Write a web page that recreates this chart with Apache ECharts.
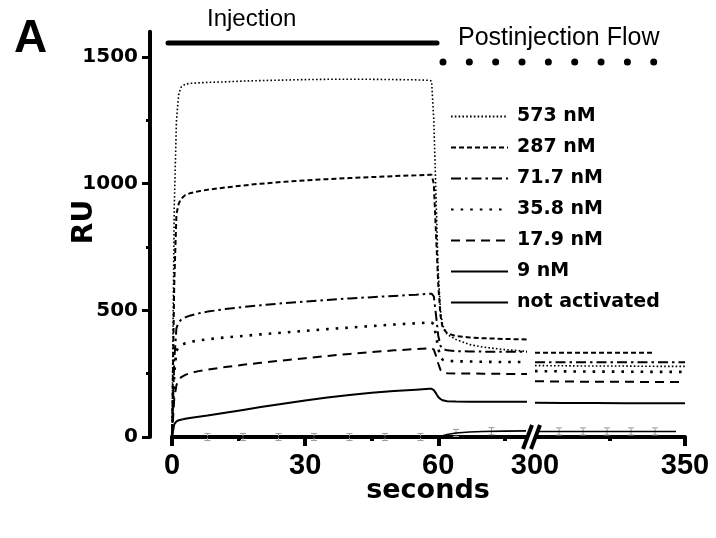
<!DOCTYPE html>
<html><head><meta charset="utf-8">
<script src="https://cdn.jsdelivr.net/npm/echarts@6/dist/echarts.min.js"></script>
<style>html,body{margin:0;padding:0;background:#fff}#c{width:716px;height:538px}</style>
</head><body><div id="c"></div>
<script>
// ---- data ----
const seriesNames = ['573 nM','287 nM','71.7 nM','35.8 nM','17.9 nM','9 nM','not activated'];
// injection + early postinjection (seconds)
const tLeft = [0,0.5,1,1.5,2,3,4,6,8,12,16,20,25,30,35,40,45,50,55,58,58.5,59,59.5,60,60.5,61,62,64,67,70,75,80];
const v573L = [0,900,1250,1350,1380,1393,1396,1398,1400,1402,1405,1407,1409,1411,1412,1412,1412,1411,1410,1408,1405,1250,950,650,500,440,405,385,365,355,345,338];
const v287L = [0,600,880,920,940,955,962,970,976,985,993,1000,1007,1013,1018,1022,1026,1030,1033,1035,1035,1000,800,600,480,430,410,398,393,390,387,385];
const v717L = [0,300,430,452,462,472,479,488,495,505,513,520,528,535,541,547,552,557,562,566,566,555,480,400,360,348,342,339,338,337,337,336];
const v358L = [0,250,340,355,362,370,375,381,386,393,399,405,412,419,426,432,438,444,449,452,452,445,400,350,315,305,301,299,298,297,296,296];
const v179L = [0,150,205,225,235,245,252,260,266,276,285,293,302,311,320,328,335,342,347,350,350,345,320,290,265,256,252,251,251,250,249,249];
const v9L   = [0,50,62,66,68,72,75,80,85,96,107,118,131,144,156,166,175,182,187,190,190,185,172,158,150,145,141,140,139,139,139,139];
const vNaL  = [0,0,0,0,0,0,0,0,0,0,0,0,0,0,0,0,0,0,0,0,0,0,0,0,3,5,10,16,20,22,23,24];
// late postinjection (seconds)
const tRight = [300,310,320,330,340,347,350];
const v573R = [282,281,280,280,279,279,279];
const v287R = [333,333,333,333,333,null,null];
const v717R = [295,295,295,295,295,295,295];
const v358R = [260,259,258,258,257,257,257];
const v179R = [220,219,218,218,217,217,217];
const v9R   = [135,134,134,133,133,133,133];
const vNaR  = [22,22,22,22,22,22,null];
// error bars of "not activated"
const errT = [8,16,24,32,40,48,56,64,72];
const errV = [0,0,0,0,0,0,0,16,23];
const errTR = [308,316,324,332,340];
const errVR = [22,22,22,22,22];
const errHalf = 14;
// ticks
const yTicks = [0,500,1000,1500];
const yMinor = [250,750,1250];
const xTicksL = [0,30,60];
const xMinorL = [15,45,75];
const xLabelsR = [300,350];
const xTicksR = [350];
const xMinorR = [325];

// ---- styles ----
const leftVals = [v573L,v287L,v717L,v358L,v179L,v9L,vNaL];
const rightVals = [v573R,v287R,v717R,v358R,v179R,v9R,vNaR];
const lineStyles = [
  {width:1.6, type:[1.6,2.2]},
  {width:2, type:[5,3]},
  {width:2, type:[10,4,2.5,4]},
  {width:2.6, type:[2.6,7]},
  {width:2, type:[9,6]},
  {width:2, type:'solid'},
  {width:1.6, type:'solid'}
];
const zip = (t,v)=>t.map((x,i)=>[x,v[i]]);
const series = [];
seriesNames.forEach((n,i)=>{
  const ls = Object.assign({color:'#000'}, lineStyles[i]);
  series.push({name:n,type:'line',xAxisIndex:0,yAxisIndex:0,data:zip(tLeft,leftVals[i]),symbol:'none',lineStyle:ls,itemStyle:{color:'#000'},clip:true,animation:false,z:3});
  series.push({name:n,type:'line',xAxisIndex:2,yAxisIndex:2,data:zip(tRight,rightVals[i]),symbol:'none',lineStyle:ls,itemStyle:{color:'#000'},clip:true,animation:false,z:3});
});
function errRender(params, api){
  const t = api.value(0), v = api.value(1), e = api.value(2);
  const a = api.coord([t, v+e]), b = api.coord([t, v-e]);
  const st = {stroke:'#9a9a9a', lineWidth:1};
  return {type:'group', children:[
    {type:'line', shape:{x1:a[0],y1:a[1],x2:b[0],y2:b[1]}, style:st},
    {type:'line', shape:{x1:a[0]-3,y1:a[1],x2:a[0]+3,y2:a[1]}, style:st},
    {type:'line', shape:{x1:b[0]-3,y1:b[1],x2:b[0]+3,y2:b[1]}, style:st}
  ]};
}
series.push({type:'custom',name:'err',xAxisIndex:0,yAxisIndex:0,renderItem:errRender,data:errT.map((t,i)=>[t,errV[i],errHalf]),z:2,animation:false});
series.push({type:'custom',name:'errR',xAxisIndex:2,yAxisIndex:2,renderItem:errRender,data:errTR.map((t,i)=>[t,errVR[i],errHalf]),z:2,animation:false});

const axisBlack = {color:'#000', width:4};
const bold = {fontFamily:'DejaVu Sans', fontWeight:'bold', color:'#000'};
const gridTop = 31.7, gridH = 405.3;
const plain = v => String(v);
const option = {
  backgroundColor:'#fff',
  animation:false,
  grid:[
    {left:172, top:gridTop, width:355, height:gridH},
    {left:535, top:gridTop, width:150, height:gridH}
  ],
  xAxis:[
    {gridIndex:0,type:'value',min:0,max:80,position:'bottom',
     axisLine:{onZero:false,lineStyle:axisBlack},
     axisTick:{customValues:xTicksL,length:9,lineStyle:{color:'#000',width:4}},
     axisLabel:{customValues:xTicksL,formatter:plain,margin:14,fontFamily:'Liberation Sans',fontWeight:'bold',fontSize:29,color:'#000'},
     splitLine:{show:false}},
    {gridIndex:0,type:'value',min:0,max:80,position:'bottom',
     axisLine:{show:false,onZero:false},
     axisTick:{customValues:xMinorL,length:4,lineStyle:{color:'#000',width:4}},
     axisLabel:{show:false},splitLine:{show:false}},
    {gridIndex:1,type:'value',min:300,max:350,position:'bottom',
     axisLine:{onZero:false,lineStyle:axisBlack},
     axisTick:{customValues:xTicksR,length:9,lineStyle:{color:'#000',width:4}},
     axisLabel:{customValues:xLabelsR,formatter:plain,margin:14,fontFamily:'Liberation Sans',fontWeight:'bold',fontSize:29,color:'#000'},
     splitLine:{show:false}},
    {gridIndex:1,type:'value',min:300,max:350,position:'bottom',
     axisLine:{show:false,onZero:false},
     axisTick:{customValues:xMinorR,length:4,lineStyle:{color:'#000',width:4}},
     axisLabel:{show:false},splitLine:{show:false}}
  ],
  yAxis:[
    {gridIndex:0,type:'value',min:0,max:1600,position:'left',offset:22,
     axisLine:{show:true,onZero:false,lineStyle:axisBlack},
     axisTick:{show:true,customValues:yTicks,length:8,lineStyle:{color:'#000',width:3}},
     axisLabel:Object.assign({customValues:yTicks,formatter:plain,margin:12,fontSize:20},bold),
     splitLine:{show:false}},
    {gridIndex:0,type:'value',min:0,max:1600,position:'left',offset:22,
     axisLine:{show:false,onZero:false},
     axisTick:{show:true,customValues:yMinor,length:4,lineStyle:{color:'#000',width:3}},
     axisLabel:{show:false},splitLine:{show:false}},
    {gridIndex:1,type:'value',min:0,max:1600,show:false}
  ],
  legend:{
    orient:'vertical', left:450, top:107, padding:0, itemWidth:57, itemHeight:16, itemGap:12,
    selectedMode:false, data:seriesNames,
    itemStyle:{opacity:0},
    textStyle:Object.assign({fontSize:19, padding:[0,0,0,4]}, bold)
  },
  graphic:[
    {type:'text', left:14, top:16, style:{text:'A', font:'bold 46px "Liberation Sans"', fill:'#000'}},
    {type:'text', x:207, y:19, style:{text:'Injection', font:'24px "Liberation Sans"', fill:'#000', verticalAlign:'middle'}},
    {type:'line', shape:{x1:168,y1:43,x2:437,y2:43}, style:{stroke:'#000', lineWidth:5, lineCap:'round'}},
    {type:'text', x:458, y:38, style:{text:'Postinjection Flow', font:'25px "Liberation Sans"', fill:'#000', verticalAlign:'middle'}},
    {type:'line', shape:{x1:443,y1:62,x2:680,y2:62}, style:{stroke:'#000', lineWidth:7, lineCap:'round', lineDash:[0.01,26.33]}},
    {type:'text', x:85, y:222, rotation:Math.PI/2, style:{text:'RU', font:'bold 28px "DejaVu Sans"', fill:'#000', align:'center', verticalAlign:'middle'}},
    {type:'text', x:428, y:491, style:{text:'seconds', font:'bold 27px "DejaVu Sans"', fill:'#000', align:'center', verticalAlign:'middle'}},
    {type:'rect', shape:{x:526,y:424,width:11,height:26}, style:{fill:'#fff'}, z:100},
    {type:'line', shape:{x1:523,y1:449,x2:532,y2:425}, style:{stroke:'#000', lineWidth:4}, z:101},
    {type:'line', shape:{x1:531,y1:449,x2:540,y2:425}, style:{stroke:'#000', lineWidth:4}, z:101}
  ],
  series:series
};
const chart = echarts.init(document.getElementById('c'), null, {renderer:'canvas'});
chart.setOption(option);
</script>
</body></html>
